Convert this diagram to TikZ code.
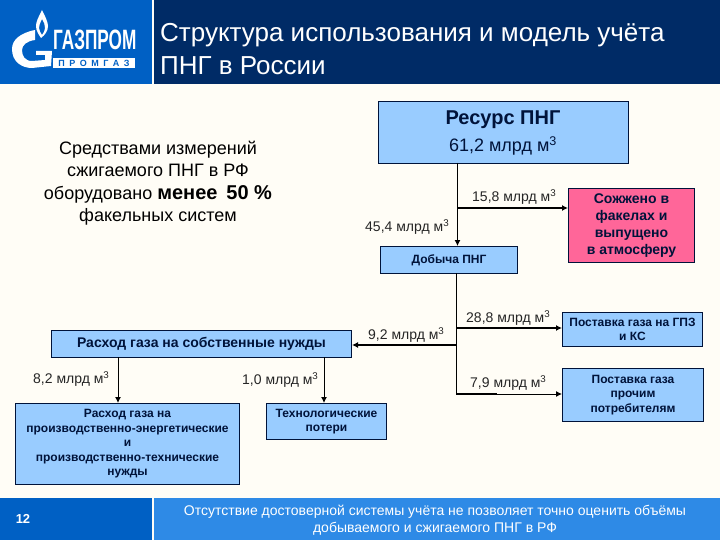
\documentclass[tikz,border=0pt]{standalone}
\usepackage{fontspec}
\setmainfont{Liberation Sans}
\usetikzlibrary{arrows.meta}
\definecolor{paper}{HTML}{FFFDF6}
\definecolor{headleft}{HTML}{0060C4}
\definecolor{headright}{HTML}{002B66}
\definecolor{footright}{HTML}{2E8AE6}
\definecolor{boxblue}{HTML}{99CCFF}
\definecolor{boxpink}{HTML}{FF6699}
\definecolor{inkblue}{HTML}{00133A}
\tikzset{
  stepbox/.style={draw=inkblue,fill=boxblue,line width=1pt,align=center,inner sep=0pt,anchor=north west,font=\bfseries\fontsize{12}{14.5}\selectfont,text=inkblue},
  amount/.style={font=\fontsize{14}{16}\selectfont,inner sep=0pt,text=black!85,anchor=west},
  flow/.style={-{Latex[length=6pt,width=6pt]},line width=1pt},
  flowthick/.style={-{Latex[length=6pt,width=6pt]},line width=1.7pt},
}
\newcommand{\bcm}{млрд м\textsuperscript{3}}
\begin{document}
\begin{tikzpicture}[x=1pt,y=-1pt]
  \useasboundingbox (0,0) rectangle (720,540);
  \fill[paper] (0,0) rectangle (720,540);
  % header and footer bands
  \fill[headleft] (0,0) rectangle (152,84);
  \fill[headright] (154,0) rectangle (720,84);
  \fill[headleft] (0,498) rectangle (152,540);
  \fill[footright] (154,498) rectangle (720,540);
  \node[anchor=west,inner sep=0pt,align=left,text=white,font=\fontsize{26}{33}\selectfont] (title) at (160,49)
    {Структура использования и модель учёта\\ПНГ в России};
  \node[inner sep=0pt,align=center,text=white,font=\fontsize{14}{17.5}\selectfont] (note) at (435,520)
    {Отсутствие достоверной системы учёта не позволяет точно оценить объёмы\\добываемого и сжигаемого ПНГ в РФ};
  \node[inner sep=0pt,text=white,font=\bfseries\fontsize{13}{15}\selectfont] (page) at (23,519) {12};
  % logo
  \fill[white] (35,30) .. controls (20,33) and (12,40) .. (12,49)
    .. controls (12,62) and (22,68) .. (32,68) -- (51,66) -- (52,51) -- (36,51) -- (36,55) -- (45,55) -- (45,60) -- (32,61)
    .. controls (25,61) and (22,56) .. (22,50) .. controls (22,45) and (27,41) .. (35,40) -- cycle;
  \fill[white,even odd rule] (42,10) .. controls (38,18) and (36,22) .. (36,26) .. controls (36,31) and (39,35) .. (41,38)
    .. controls (45,35) and (48,31) .. (48,26) .. controls (48,22) and (45,16) .. (42,10) -- cycle
    (42,19) .. controls (40,23) and (39,26) .. (39,28) .. controls (39,31) and (41,33) .. (42,35)
    .. controls (44,32) and (45,30) .. (45,28) .. controls (45,25) and (44,22) .. (42,19) -- cycle;
  \node[inner sep=0pt,anchor=west,text=white,font=\bfseries\fontsize{28}{30}\selectfont,transform shape,xscale=.615] (logotop) at (53,40) {ГАЗПРОМ};
  \fill[white] (53,58) rectangle (135,68);
  \node[inner sep=0pt,text=headleft,font=\bfseries\fontsize{9}{10}\selectfont] (logobottom) at (94,63) {П\,\,\,Р\,\,\,О\,\,\,М\,\,\,Г\,\,\,А\,\,\,З};
  % left remark
  \node[inner sep=0pt,align=center,font=\fontsize{18}{22.5}\selectfont] (remark) at (158,183)
    {Средствами измерений\\сжигаемого ПНГ в РФ\\оборудовано {\bfseries\fontsize{20}{22.5}\selectfont менее\, 50 \%}\\факельных систем};
  % boxes
  \node[stepbox,minimum width=250pt,minimum height=62pt] (resource) at (378,101) {};
  \node[inner sep=0pt,font=\bfseries\fontsize{20}{22}\selectfont,text=inkblue] (resourcetitle) at (503,120) {Ресурс ПНГ};
  \node[inner sep=0pt,font=\fontsize{18}{20}\selectfont,text=inkblue] (resourcevalue) at (503,146) {61,2 \bcm};
  \node[stepbox,fill=boxpink,minimum width=126pt,minimum height=74pt,font=\bfseries\fontsize{14}{17}\selectfont] (burnt) at (568,188) {Сожжено в\\факелах и\\выпущено\\в атмосферу};
  \node[stepbox,minimum width=137pt,minimum height=27pt] (output) at (380,246) {Добыча ПНГ};
  \node[stepbox,minimum width=300pt,minimum height=27pt,font=\bfseries\fontsize{14}{16}\selectfont] (ownuse) at (51,330) {Расход газа на собственные нужды};
  \node[stepbox,minimum width=140pt,minimum height=34pt] (plants) at (562,312) {Поставка газа на ГПЗ\\и КС};
  \node[stepbox,minimum width=141pt,minimum height=53pt] (others) at (562,368) {Поставка газа\\прочим\\потребителям};
  \node[stepbox,minimum width=224pt,minimum height=81pt] (energy) at (15,403) {Расход газа на\\производственно-энергетические\\и\\производственно-технические\\нужды};
  \node[stepbox,minimum width=120pt,minimum height=36pt] (losses) at (266,403) {Технологические\\потери};
  % junctions
  \coordinate (a) at (457.5,163);
  \coordinate (b) at (457.5,246);
  \coordinate (c) at (457.5,208);
  \coordinate (d) at (456,273);
  \coordinate (e) at (456,328);
  \coordinate (f) at (456,345);
  \coordinate (g) at (456,394);
  \coordinate (h) at (497,394);
  \coordinate (i) at (118,357);
  \coordinate (j) at (118,403);
  \coordinate (k) at (324,357);
  \coordinate (l) at (324,403);
  % connectors
  \draw[flow] (a) -- (b);
  \draw[flowthick] (c) -- (c -| burnt.west);
  \draw[line width=1pt] (d) -- (g);
  \draw[flowthick] (e) -- (e -| plants.west);
  \draw[flowthick] (f) -- (f -| ownuse.east);
  \draw[line width=1.7pt] (g) -- (h);
  \draw[flow] (h) -- (h -| others.west);
  \draw[flow] (i) -- (j);
  \draw[flow] (k) -- (l);
  % amounts
  \node[amount] (v1) at (472,197) {15,8 \bcm};
  \node[amount] (v2) at (365,227) {45,4 \bcm};
  \node[amount] (v3) at (466,318) {28,8 \bcm};
  \node[amount] (v4) at (368,335) {9,2 \bcm};
  \node[amount] (v5) at (470,383) {7,9 \bcm};
  \node[amount] (v6) at (33,379) {8,2 \bcm};
  \node[amount] (v7) at (242,380) {1,0 \bcm};
\end{tikzpicture}
\end{document}
